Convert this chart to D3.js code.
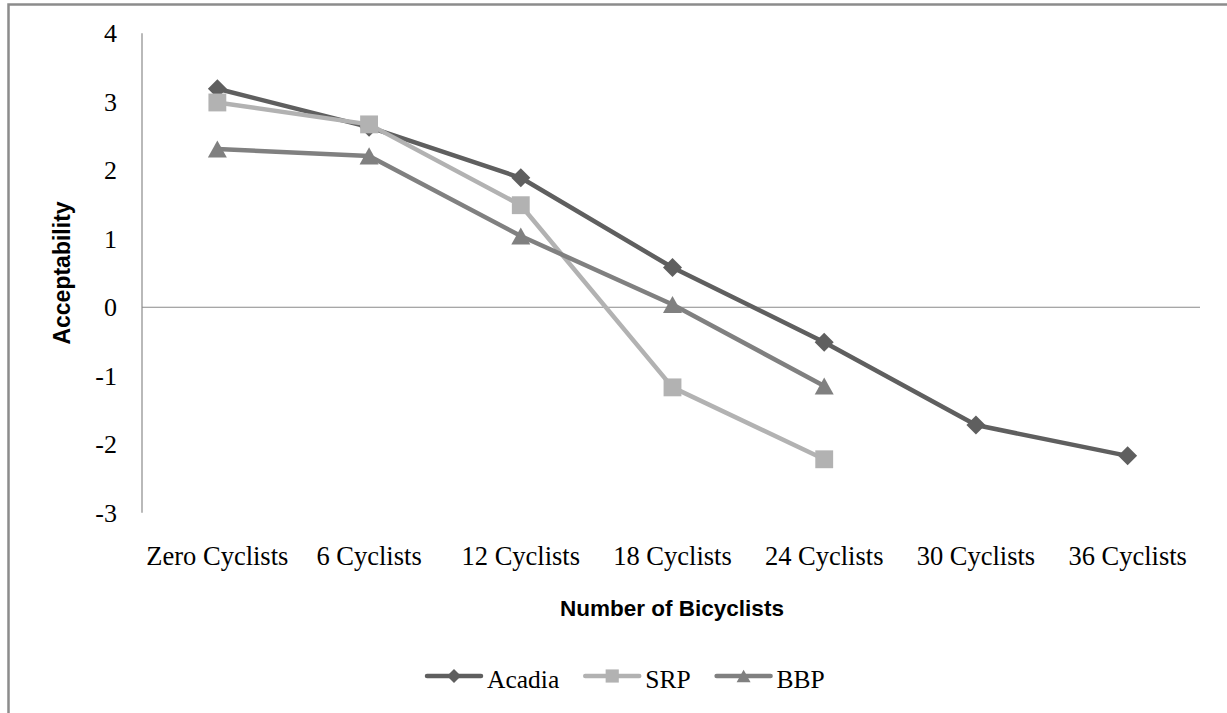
<!DOCTYPE html>
<html>
<head>
<meta charset="utf-8">
<script src="https://cdn.jsdelivr.net/npm/d3@7"></script>
<style>
  html, body { margin: 0; padding: 0; background: #ffffff; }
  svg { display: block; }
</style>
</head>
<body>
<svg id="chart" width="1227" height="713"></svg>
<script>
// Acceptability ratings by number of bicyclists
const categories = ["Zero Cyclists", "6 Cyclists", "12 Cyclists", "18 Cyclists", "24 Cyclists", "30 Cyclists", "36 Cyclists"];
const acadia = [3.19, 2.63, 1.89, 0.58, -0.51, -1.72, -2.17];
const srp = [2.99, 2.67, 1.49, -1.17, -2.22, null, null];
const bbp = [2.31, 2.21, 1.04, 0.04, -1.15, null, null];
const yTicks = [-3, -2, -1, 0, 1, 2, 3, 4];
const seriesNames = ["Acadia", "SRP", "BBP"];

const series = [
  { name: seriesNames[0], values: acadia, color: "#5f5f5f", marker: "diamond" },
  { name: seriesNames[1], values: srp, color: "#b2b2b2", marker: "square" },
  { name: seriesNames[2], values: bbp, color: "#808080", marker: "triangle" }
];

const svg = d3.select("#chart");
const serif = "'Liberation Serif', 'Times New Roman', serif";
const sans = "'Liberation Sans', Arial, sans-serif";

// outer chart frame
svg.append("rect")
  .attr("x", 8.5).attr("y", 4.5)
  .attr("width", 1240).attr("height", 740)
  .attr("fill", "none").attr("stroke", "#8c8c8c").attr("stroke-width", 2.5);

const x = d3.scaleBand().domain(categories).range([141.5, 1203.5]);
const y = d3.scaleLinear().domain([-3, 4]).range([512.7, 33.3]);
const cx = c => x(c) + x.bandwidth() / 2;
const plotLeft = 142, plotRight = 1200;

// vertical value axis line
svg.append("line")
  .attr("x1", plotLeft).attr("x2", plotLeft)
  .attr("y1", y(4)).attr("y2", y(-3))
  .attr("stroke", "#8a8a8a").attr("stroke-width", 1.2);

// horizontal category axis at zero
svg.append("line")
  .attr("x1", plotLeft).attr("x2", plotRight)
  .attr("y1", y(0)).attr("y2", y(0))
  .attr("stroke", "#8a8a8a").attr("stroke-width", 1.2);

// value tick labels
svg.append("g").selectAll("text")
  .data(yTicks).join("text")
  .attr("x", 117).attr("y", d => y(d) + 9)
  .attr("text-anchor", "end")
  .attr("font-family", serif)
  .attr("font-size", 26).attr("fill", "#000")
  .text(d => d);

// category labels
svg.append("g").selectAll("text")
  .data(categories).join("text")
  .attr("x", d => cx(d)).attr("y", 565)
  .attr("text-anchor", "middle")
  .attr("font-family", serif)
  .attr("font-size", 26.5).attr("fill", "#000")
  .text(d => d);

// axis titles
svg.append("text")
  .attr("x", 672).attr("y", 616)
  .attr("text-anchor", "middle")
  .attr("font-family", sans)
  .attr("font-weight", "bold").attr("font-size", 22.5)
  .text("Number of Bicyclists");

svg.append("text")
  .attr("transform", "translate(70,273) rotate(-90)")
  .attr("text-anchor", "middle")
  .attr("font-family", sans)
  .attr("font-weight", "bold").attr("font-size", 23)
  .text("Acceptability");

function markerPath(type, s) {
  if (type === "diamond") {
    const h = s * 0.5;
    return `M0,${-h}L${h},0L0,${h}L${-h},0Z`;
  }
  if (type === "square") {
    const h = s * 0.47;
    return `M${-h},${-h}H${h}V${h}H${-h}Z`;
  }
  const w = s * 0.5, hh = s * 0.45;
  return `M0,${-hh}L${w},${hh}L${-w},${hh}Z`;
}

const line = d3.line()
  .defined(d => d.v !== null)
  .x(d => cx(d.c))
  .y(d => y(d.v));

series.forEach(s => {
  const pts = categories.map((c, i) => ({ c, v: s.values[i] }));
  const g = svg.append("g");
  g.append("path")
    .datum(pts)
    .attr("d", line)
    .attr("fill", "none")
    .attr("stroke", s.color)
    .attr("stroke-width", 4.5)
    .attr("stroke-linejoin", "round");
  g.selectAll(".m")
    .data(pts.filter(d => d.v !== null)).join("path")
    .attr("transform", d => `translate(${cx(d.c)},${y(d.v)})`)
    .attr("d", markerPath(s.marker, 19))
    .attr("fill", s.color);
});

// legend
const legend = svg.append("g");
let lx = 427;
const ly = 676;
series.forEach(s => {
  legend.append("line")
    .attr("x1", lx).attr("x2", lx + 54)
    .attr("y1", ly).attr("y2", ly)
    .attr("stroke", s.color).attr("stroke-width", 4.5)
    .attr("stroke-linecap", "round");
  legend.append("path")
    .attr("transform", `translate(${lx + 27},${ly})`)
    .attr("d", markerPath(s.marker, 14))
    .attr("fill", s.color);
  const t = legend.append("text")
    .attr("x", lx + 60).attr("y", ly + 12)
    .attr("font-family", serif)
    .attr("font-size", 25.5).attr("fill", "#000")
    .text(s.name);
  lx = lx + 60 + t.node().getComputedTextLength() + 26;
});
</script>
</body>
</html>
